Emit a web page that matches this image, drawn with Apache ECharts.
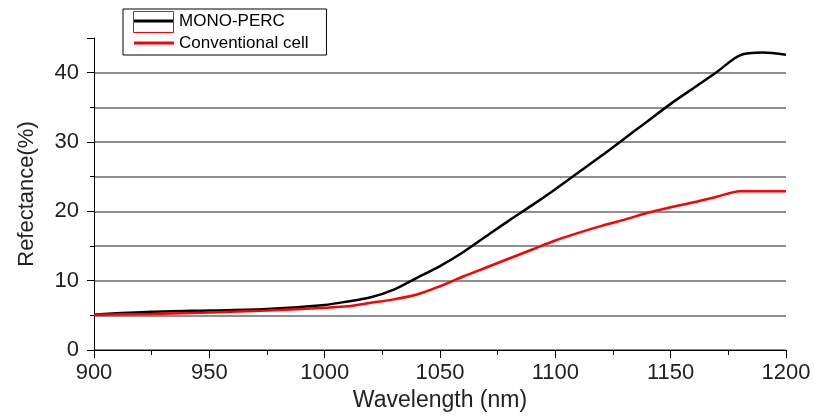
<!DOCTYPE html>
<html>
<head>
<meta charset="utf-8">
<script src="https://cdn.jsdelivr.net/npm/echarts@6/dist/echarts.min.js"></script>
<style>html,body{margin:0;padding:0;background:#fff}#c{width:814px;height:419px}</style>
</head>
<body>
<div id="c"></div>
<script>
const wavelengths = [900, 925, 950, 975, 1000, 1010, 1020, 1030, 1040, 1050, 1060, 1070, 1080, 1090, 1100, 1110, 1120, 1130, 1140, 1150, 1160, 1170, 1180, 1190, 1200];
const monoPerc =    [5.1, 5.5, 5.7, 5.9, 6.5, 7.0, 7.6, 8.7, 10.4, 12.1, 14.1, 16.4, 18.7, 20.9, 23.2, 25.6, 28.0, 30.5, 33.0, 35.5, 37.8, 40.1, 42.5, 42.9, 42.6];
const conventional = [5.1, 5.2, 5.4, 5.7, 6.1, 6.3, 6.8, 7.3, 8.0, 9.2, 10.6, 11.9, 13.2, 14.5, 15.8, 16.9, 17.9, 18.8, 19.8, 20.6, 21.3, 22.1, 22.9, 22.9, 22.9];
const seriesNames = ['MONO-PERC', 'Conventional cell'];
const xTicks = [900, 950, 1000, 1050, 1100, 1150, 1200];
const yTicks = [0, 10, 20, 30, 40];

const chart = echarts.init(document.getElementById('c'));
const font = 'Liberation Sans, Arial, sans-serif';
const gridColors = ['#6a6a6a','#6a6a6a','#6a6a6a','#6a6a6a','#6a6a6a','#6a6a6a','#6a6a6a','#6a6a6a','#6a6a6a','rgba(0,0,0,0)'];
chart.setOption({
  animation: false,
  grid: { left: 94, right: 28, top: 38, bottom: 69 },
  legend: {
    orient: 'vertical', left: 123, top: 9,
    padding: [2, 18, 2, 11], itemGap: 2,
    itemWidth: 40, itemHeight: 3, icon: 'rect',
    borderColor: '#000', borderWidth: 1, backgroundColor: '#fff',
    textStyle: { fontFamily: font, fontSize: 17, color: '#000', lineHeight: 20 },
    data: seriesNames
  },
  graphic: [{
    type: 'rect', z: 100,
    shape: { x: 133.5, y: 11.5, width: 40, height: 21 },
    style: { fill: 'none', stroke: '#ff0000', lineWidth: 1 }
  }],
  xAxis: {
    type: 'value', min: xTicks[0], max: xTicks[xTicks.length - 1], interval: 50,
    name: 'Wavelength (nm)', nameLocation: 'middle', nameGap: 38,
    nameTextStyle: { fontFamily: font, fontSize: 23, color: '#222' },
    axisLine: { lineStyle: { color: '#000', width: 1 } },
    axisTick: { show: true, length: 8, lineStyle: { color: '#000' } },
    minorTick: { show: true, splitNumber: 2, length: 5, lineStyle: { color: '#000' } },
    axisLabel: { fontFamily: font, fontSize: 22, color: '#222', margin: 12, formatter: v => String(v) },
    splitLine: { show: false }
  },
  yAxis: [{
    type: 'value', min: 0, max: 45, interval: 5, position: 'left',
    name: 'Refectance(%)', nameLocation: 'middle', nameGap: 56,
    nameTextStyle: { fontFamily: font, fontSize: 22, color: '#222' },
    axisLine: { show: true, lineStyle: { color: '#000', width: 1 } },
    axisTick: { show: true, length: 4, lineStyle: { color: '#000' } },
    axisLabel: { show: false },
    splitLine: { show: true, lineStyle: { color: gridColors, width: 1.5 } }
  }, {
    type: 'value', min: 0, max: 45, interval: 10, position: 'left',
    axisLine: { show: false },
    axisTick: { show: true, length: 7, lineStyle: { color: '#000' } },
    axisLabel: {
      fontFamily: font, fontSize: 22, color: '#222', margin: 15,
      formatter: v => yTicks.indexOf(v) >= 0 ? String(v) : ''
    },
    splitLine: { show: false }
  }],
  series: [{
    name: seriesNames[0], type: 'line', smooth: 0.3, showSymbol: false,
    yAxisIndex: 0,
    lineStyle: { color: '#000', width: 2.5 }, itemStyle: { color: '#000' },
    data: wavelengths.map((w, i) => [w, monoPerc[i]])
  }, {
    name: seriesNames[1], type: 'line', smooth: 0.3, showSymbol: false,
    yAxisIndex: 0,
    lineStyle: { color: '#ff0000', width: 2.5 }, itemStyle: { color: '#ff0000' },
    data: wavelengths.map((w, i) => [w, conventional[i]])
  }]
});
</script>
</body>
</html>
